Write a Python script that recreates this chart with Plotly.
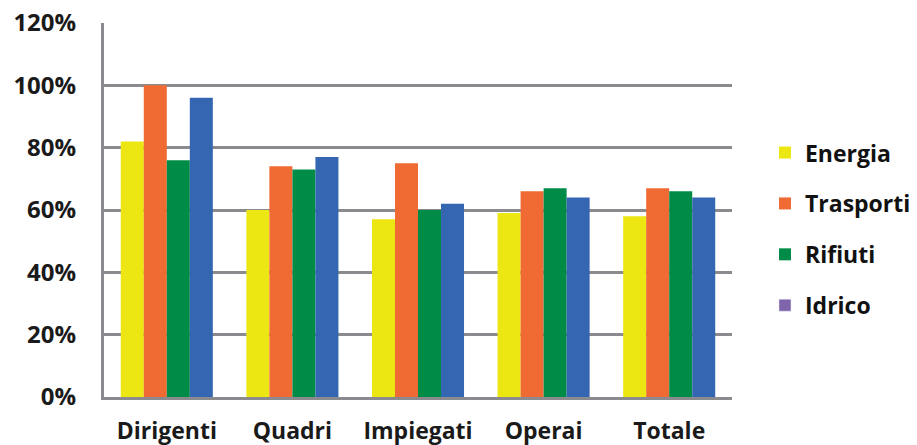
import plotly.graph_objects as go

# Categories and series values (percent)
categories = ["Dirigenti", "Quadri", "Impiegati", "Operai", "Totale"]
energia = [82, 60, 57, 59, 58]
trasporti = [100, 74, 75, 66, 67]
rifiuti = [76, 73, 60, 67, 66]
idrico = [96, 77, 62, 64, 64]

y_ticks = [0, 20, 40, 60, 80, 100, 120]
y_labels = [f"{v}%" for v in y_ticks]

colors = {
    "Energia": "#ECE612",
    "Trasporti": "#F06A33",
    "Rifiuti": "#008C46",
    "Idrico_bar": "#3566B1",
    "Idrico_key": "#8064AB",
}

font_family = "'Open Sans', Lato, sans-serif"

fig = go.Figure()
for name, vals in [("Energia", energia), ("Trasporti", trasporti), ("Rifiuti", rifiuti)]:
    fig.add_trace(go.Bar(
        name=name, x=categories, y=vals,
        marker=dict(color=colors[name], line=dict(width=0)),
        legendgroup=name,
    ))
# Idrico bars are drawn in blue; its legend key is purple
fig.add_trace(go.Bar(
    name="Idrico", x=categories, y=idrico,
    marker=dict(color=colors["Idrico_bar"], line=dict(width=0)),
    showlegend=False,
))
fig.add_trace(go.Bar(
    name="Idrico", x=[categories[0]], y=[None],
    marker=dict(color=colors["Idrico_key"]),
    xaxis="x2", legendgroup="Idrico",
))

fig.update_layout(
    width=917, height=445,
    margin=dict(l=104, r=185, t=23, b=48, autoexpand=False),
    paper_bgcolor="white", plot_bgcolor="white",
    barmode="group", bargap=0.267, bargroupgap=0,
    font=dict(family=font_family, color="#1a1a1a", size=24, weight="bold"),
    showlegend=True,
    legend=dict(
        x=1.0525, xanchor="left", y=0.711, yanchor="top",
        font=dict(size=23, family=font_family, weight="bold", color="#111"),
        traceorder="grouped", tracegroupgap=18,
        bgcolor="rgba(0,0,0,0)",
    ),
    xaxis=dict(
        showline=True, linecolor="#8a8a8f", linewidth=3,
        showgrid=False, ticks="", ticklabelstandoff=11,
        tickfont=dict(size=23), automargin=False,
    ),
    xaxis2=dict(overlaying="x", visible=False, matches="x"),
    yaxis=dict(
        range=[0, 120], tickvals=y_ticks, ticktext=y_labels,
        showline=True, linecolor="#8a8a8f", linewidth=3,
        showgrid=True, gridcolor="#8a8a8f", gridwidth=2.5,
        zeroline=False, ticks="", ticklabelstandoff=20,
        tickfont=dict(size=24), automargin=False,
    ),
)

fig.write_html("out.html")
